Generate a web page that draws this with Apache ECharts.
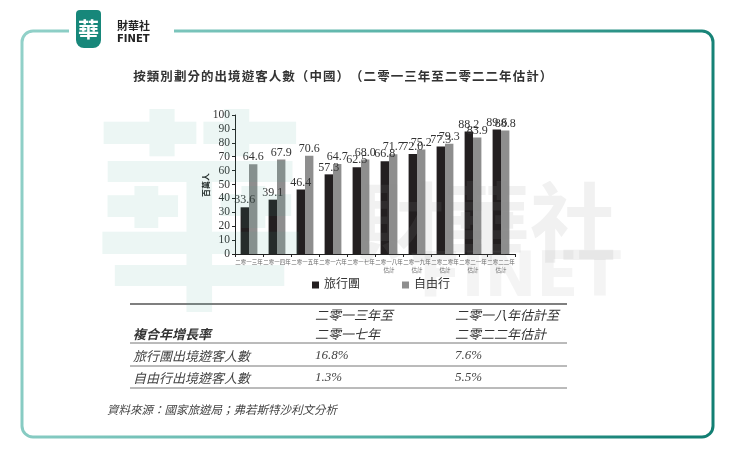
<!DOCTYPE html>
<html><head><meta charset="utf-8">
<script src="https://cdn.jsdelivr.net/npm/echarts@6/dist/echarts.min.js"></script>
<style>html,body{margin:0;padding:0;background:#fff}#c{width:730px;height:454px}</style>
</head><body><div id="c"></div>
<script>
const categories = ['二零一三年','二零一四年','二零一五年','二零一六年','二零一七年','二零一八年\n估計','二零一九年\n估計','二零二零年\n估計','二零二一年\n估計','二零二二年\n估計'];
const tourGroup = [33.6, 39.1, 46.4, 57.3, 62.5, 66.8, 72.0, 77.3, 88.2, 89.6];
const freeIndep = [64.6, 67.9, 70.6, 64.7, 68.0, 71.7, 75.2, 79.3, 83.9, 88.8];
const seriesNames = ['旅行團', '自由行'];
const yTicks = {min: 0, max: 100, interval: 10};
const title = '按類別劃分的出境遊客人數（中國）（二零一三年至二零二二年估計）';
const tableHeader = ['複合年增長率', '二零一三年至\n二零一七年', '二零一八年估計至\n二零二二年估計'];
const tableRows = [
  ['旅行團出境遊客人數', '16.8%', '7.6%'],
  ['自由行出境遊客人數', '1.3%', '5.5%']
];
const source = '資料來源：國家旅遊局；弗若斯特沙利文分析';

const CJK = '"Noto Sans CJK TC"';
const SERIF = '"Liberation Serif","DejaVu Serif",serif';

const g = [];
// frame
g.push({type:'rect', z:1, shape:{x:22, y:31, width:691, height:406, r:11},
  style:{fill:null, lineWidth:3, stroke:{type:'linear', x:0, y:0, x2:1, y2:0.3, colorStops:[{offset:0,color:'#92d1c9'},{offset:0.6,color:'#52afa4'},{offset:1,color:'#127f73'}]}}});
g.push({type:'rect', z:2, shape:{x:69, y:26, width:105, height:10}, style:{fill:'#fff'}});
// logo
g.push({type:'rect', z:3, shape:{x:76, y:10, width:25, height:38, r:[4,4,8,8]}, style:{fill:'#17877a'}});
g.push({type:'text', z:4, x:88.5, y:29, style:{text:'華', fill:'#fff', font:'bold 21px "Noto Sans CJK TC"', textAlign:'center', textVerticalAlign:'middle'}});
g.push({type:'text', z:4, x:117, y:26, style:{text:'財華社', fill:'#222', font:'bold 11px "Noto Sans CJK TC"', textAlign:'left', textVerticalAlign:'middle'}});
g.push({type:'text', z:4, x:117, y:39, style:{text:'FINET', fill:'#222', font:'bold 10px "DejaVu Sans"', textAlign:'left', textVerticalAlign:'middle'}});
// title (char by char spacing)
Array.from(title).forEach((ch, i) => {
  g.push({type:'text', z:3, x:133 + i*13.55 + 6.5, y:76, style:{text:ch, fill:'#333', font:'bold 12.5px ' + CJK, textAlign:'center', textVerticalAlign:'middle'}});
});
// y axis name
g.push({type:'text', z:3, x:206, y:185, rotation:Math.PI/2, style:{text:'百萬人', fill:'#222', font:'bold 8px ' + CJK, textAlign:'center', textVerticalAlign:'middle'}});
// table
const colX = [133, 315, 455];
const lineY = [304, 343, 366, 388];
lineY.forEach((y, i) => g.push({type:'line', z:3, shape:{x1:130, y1:y, x2:567, y2:y}, style:{stroke: i===0 ? '#555' : '#777', lineWidth: i===0 ? 1.5 : 1}}));
g.push({type:'text', z:3, x:colX[0], y:334, style:{text:tableHeader[0], fill:'#333', font:'italic bold 13px ' + CJK, textAlign:'left', textVerticalAlign:'middle'}});
[1,2].forEach(c => {
  tableHeader[c].split('\n').forEach((t, k) => {
    g.push({type:'text', z:3, x:colX[c], y:315 + k*19, style:{text:t, fill:'#333', font:'italic 13px ' + CJK, textAlign:'left', textVerticalAlign:'middle'}});
  });
});
tableRows.forEach((row, r) => {
  row.forEach((cell, c) => {
    const isNum = c > 0;
    g.push({type:'text', z:3, x:colX[c], y:356 + r*22, style:{text:cell, fill:'#444', font: isNum ? ('italic 13px ' + SERIF) : ('italic 13px ' + CJK), textAlign:'left', textVerticalAlign:'middle'}});
  });
});
g.push({type:'text', z:3, x:107, y:410, style:{text:source, fill:'#444', font:'italic 11.5px ' + CJK, textAlign:'left', textVerticalAlign:'middle'}});
// watermarks
g.push({type:'text', z:100, x:200, y:210, style:{text:'華', fill:'rgba(70,165,150,0.10)', font:'bold 215px "Noto Sans CJK TC"', textAlign:'center', textVerticalAlign:'middle'}});
g.push({type:'text', z:100, x:487, y:222, style:{text:'財華社', fill:'rgba(140,140,140,0.12)', font:'bold 86px "Noto Sans CJK TC"', textAlign:'center', textVerticalAlign:'middle'}});
g.push({type:'text', z:100, x:520, y:280, style:{text:'FINET', fill:'rgba(150,150,150,0.10)', font:'bold 62px "DejaVu Sans"', textAlign:'center', textVerticalAlign:'middle'}});

const chart = echarts.init(document.getElementById('c'), null, {renderer:'canvas'});
const lbl = {show:true, position:'top', distance:1, color:'#333', fontFamily:SERIF, fontSize:12,
  formatter: p => Number(p.value).toFixed(1)};
chart.setOption({
  animation:false,
  backgroundColor:'#fff',
  grid:{left:235, right:215, top:115, bottom:200, containLabel:false},
  legend:{left:307, top:274, itemWidth:7, itemHeight:7, icon:'rect', itemGap:42,
    textStyle:{fontFamily:SERIF + ',' + CJK, fontSize:12, color:'#333'}, data:seriesNames},
  xAxis:{type:'category', data:categories,
    axisLine:{lineStyle:{color:'#222', width:1}},
    axisTick:{show:true, length:3, lineStyle:{color:'#222'}},
    axisLabel:{fontSize:5.5, color:'#666', fontFamily:CJK, lineHeight:8, margin:4, interval:0}},
  yAxis:{type:'value', min:yTicks.min, max:yTicks.max, interval:yTicks.interval,
    splitLine:{show:false},
    axisLine:{show:true, lineStyle:{color:'#222', width:1}},
    axisTick:{show:true, length:3, lineStyle:{color:'#222'}},
    axisLabel:{fontFamily:SERIF, fontSize:11.5, color:'#333', margin:5}},
  series:[
    {name:seriesNames[0], type:'bar', data:tourGroup, barWidth:'30%', barGap:'0%', itemStyle:{color:'#231f20'}, label:lbl, z:2},
    {name:seriesNames[1], type:'bar', data:freeIndep, barWidth:'30%', barGap:'0%', itemStyle:{color:'#8e8e8e'}, label:lbl, z:2}
  ],
  graphic:{elements:g}
});
</script></body></html>
